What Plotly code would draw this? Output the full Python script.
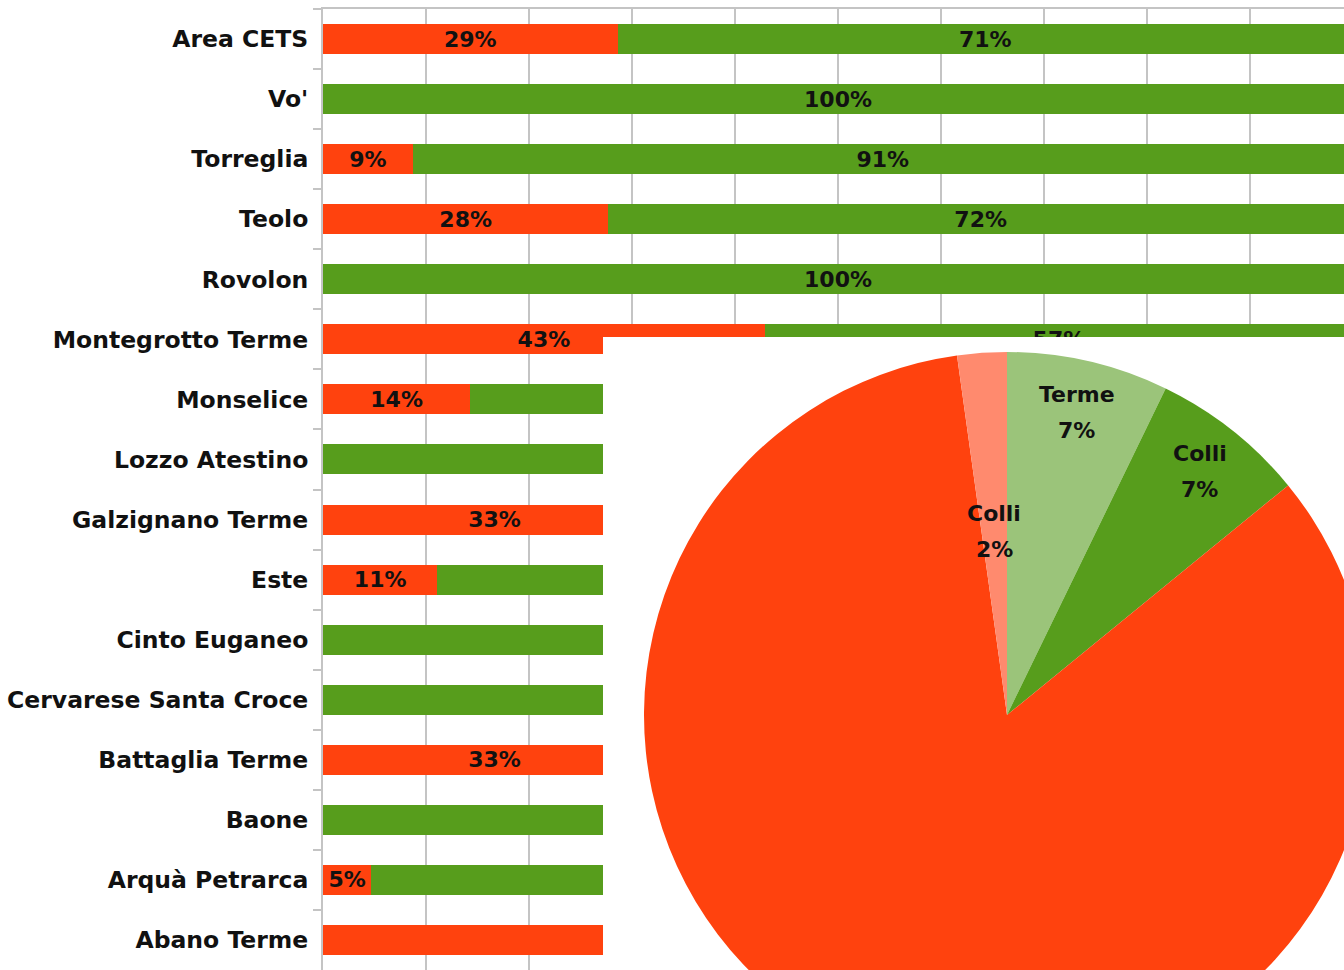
import math
import plotly.graph_objects as go

# ---------------- data ----------------
categories = ["Area CETS", "Vo'", "Torreglia", "Teolo", "Rovolon", "Montegrotto Terme",
              "Monselice", "Lozzo Atestino", "Galzignano Terme", "Este", "Cinto Euganeo",
              "Cervarese Santa Croce", "Battaglia Terme", "Baone", "Arquà Petrarca", "Abano Terme"]
red_share = [0.286, 0.0, 0.087, 0.277, 0.0, 0.429, 0.143, 0.0, 0.333, 0.111, 0.0, 0.0,
             0.333, 0.0, 0.047, 1.0]
green_share = [round(1 - v, 3) for v in red_share]

pie_labels = ["Terme verde", "Colli verde", "Terme rosso", "Colli rosso"]
pie_names = ["Terme", "Colli", "Terme", "Colli"]
pie_values = [7.2, 6.9, 83.7, 2.2]

# ---------------- styling ----------------
RED = "#ff420e"
GREEN = "#579d1c"
PIE_COLORS = ["#9bc47a", "#579d1c", "#ff420e", "#ff8a6e"]
LABEL_FONT = dict(family="DejaVu Sans", size=23.5, color="#111111", weight="bold")
BAR_FONT = dict(family="DejaVu Sans", size=22, color="#111111", weight="bold")
PIE_FONT = dict(family="DejaVu Sans", size=22, color="#111111", weight="bold")
GRID = "#c4c4c4"
# radius fraction where each pie label sits (None = label not shown)
PIE_LABEL_R = [0.855, 0.855, None, 0.507]

W, H = 1380, 1090
PLOT_L, PLOT_R, PLOT_T, PLOT_B = 323, 1353, 9, 970     # bar plot area (pixels)
COVER_X, COVER_Y = 603, 337                              # white panel behind the pie

def px_x(p):
    return p / W

def px_y(p):
    return 1 - p / H

def bar_texts(starts, vals):
    """Percent label per segment; labels that fall under the pie panel are left empty."""
    row_h = (PLOT_B - PLOT_T) / len(categories)
    out = []
    for i, (s, v) in enumerate(zip(starts, vals)):
        x_c = PLOT_L + (s + v / 2) * (PLOT_R - PLOT_L)
        y_top = PLOT_T + (i + 0.5) * row_h - 10
        hidden = x_c > COVER_X and y_top > COVER_Y
        out.append(f"{v:.0%}" if v > 0 and not hidden else "")
    return out

fig = go.Figure()

fig.add_trace(go.Bar(
    y=categories, x=red_share, orientation="h", marker=dict(color=RED, line=dict(width=0)),
    text=bar_texts([0] * len(red_share), red_share), textposition="inside",
    insidetextanchor="middle", textangle=0, constraintext="none", textfont=BAR_FONT,
    hoverinfo="x+y", name="rosso"))
fig.add_trace(go.Bar(
    y=categories, x=green_share, orientation="h", marker=dict(color=GREEN, line=dict(width=0)),
    text=bar_texts(red_share, green_share), textposition="inside",
    insidetextanchor="middle", textangle=0, constraintext="none", textfont=BAR_FONT,
    hoverinfo="x+y", name="verde"))

# overlapping empty subplot -> its white background hides the lower right of the bars
fig.add_trace(go.Scatter(x=[], y=[], xaxis="x2", yaxis="y2", showlegend=False))

# pie
R = 363
cx, cy = 1007, 715
fig.add_trace(go.Pie(
    labels=pie_labels, values=pie_values, text=pie_names,
    textinfo="none",
    sort=False, direction="clockwise", rotation=0,
    marker=dict(colors=PIE_COLORS, line=dict(width=0)),
    domain=dict(x=[px_x(cx - R), px_x(cx + R)], y=[px_y(cy + R), px_y(cy - R)]),
    showlegend=False))

# slice labels (name above, percentage below) on each slice's mid angle
total = sum(pie_values)
cum = 0.0
for name, v, rf in zip(pie_names, pie_values, PIE_LABEL_R):
    mid_deg = (cum + v / 2) / total * 360
    cum += v
    if rf is None:
        continue
    lx = cx + rf * R * math.sin(math.radians(mid_deg))
    ly = cy - rf * R * math.cos(math.radians(mid_deg))
    for txt, dy in ((name, -18), (f"{v / total:.0%}", 18)):
        fig.add_annotation(x=px_x(lx), y=px_y(ly + dy), xref="paper", yref="paper",
                           xanchor="center", yanchor="middle",
                           showarrow=False, text=txt, font=PIE_FONT)

fig.update_layout(
    template="none",
    width=W, height=H,
    margin=dict(l=0, r=0, t=0, b=0),
    paper_bgcolor="white", plot_bgcolor="white",
    barmode="stack", bargap=0.5, showlegend=False,
    xaxis=dict(domain=[px_x(PLOT_L), px_x(PLOT_R)], range=[0, 1], dtick=0.1,
               showgrid=True, gridcolor=GRID, gridwidth=2, zeroline=False,
               showticklabels=False, ticks="", showline=True, linecolor=GRID,
               linewidth=2, side="top", automargin=False, fixedrange=True),
    yaxis=dict(domain=[px_y(PLOT_B), px_y(PLOT_T)], type="category",
               categoryorder="array", categoryarray=categories, autorange="reversed",
               showgrid=False, zeroline=False, showline=True, linecolor=GRID, linewidth=2,
               ticks="outside", tickson="boundaries", ticklen=8, tickcolor=GRID, tickwidth=2,
               ticklabelstandoff=8, tickfont=LABEL_FONT, automargin=False, fixedrange=True),
    xaxis2=dict(domain=[px_x(COVER_X), 1], range=[0, 1], visible=False, anchor="y2"),
    yaxis2=dict(domain=[0, px_y(COVER_Y)], range=[0, 1], visible=False, anchor="x2"),
)

fig.write_html(
    "out.html",
    config={"displayModeBar": False},
    post_script=("document.documentElement.style.overflow='hidden';"
                 "document.body.style.margin='0';"
                 "document.body.style.overflow='hidden';"),
)
